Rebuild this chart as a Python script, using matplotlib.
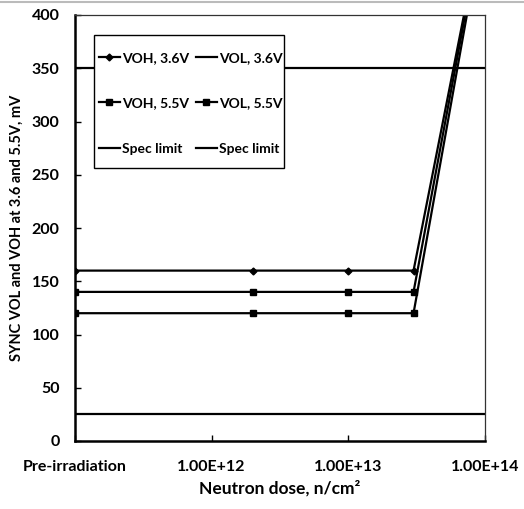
import numpy as np
import matplotlib.pyplot as plt
from matplotlib.lines import Line2D
from matplotlib.patches import Rectangle

plt.rcParams['font.family'] = ['Lato', 'DejaVu Sans']
plt.rcParams['font.weight'] = 'bold'

# Dosis (pre-irradiación se dibuja en 1E11)
dose = [1e11, 2e12, 1e13, 3e13, 1e14]
voh_36 = [160, 160, 160, 160, 500]
voh_55 = [140, 140, 140, 140, 500]
vol_55 = [120, 120, 120, 120, 495]
vol_36 = []  # sin puntos dentro del rango
spec_hi = [350, 350]
spec_lo = [25, 25]
spec_x = [1e11, 1e14]

xticks = [1e11, 1e12, 1e13, 1e14]
xticklabels = ['Pre-irradiation', '1.00E+12', '1.00E+13', '1.00E+14']
yticks = np.arange(0, 401, 50)

fig = plt.figure(figsize=(5.24, 5.09), dpi=100)
ax = fig.add_axes([75 / 524, 1 - 441 / 509, 410 / 524, 426 / 509])

lw = 1.6
h1, = ax.plot(dose, voh_36, color='black', lw=lw, marker='D', ms=3.5, label='VOH, 3.6V')
h2, = ax.plot(vol_36, vol_36, color='black', lw=lw, label='VOL, 3.6V')
h3, = ax.plot(dose, voh_55, color='black', lw=lw, marker='s', ms=3.8, label='VOH, 5.5V')
h4, = ax.plot(dose, vol_55, color='black', lw=lw, marker='s', ms=4.8, label='VOL, 5.5V')
h5, = ax.plot(spec_x, spec_hi, color='black', lw=lw, label='Spec limit')
h6, = ax.plot(spec_x, spec_lo, color='black', lw=lw, label='Spec limit')

ax.set_xscale('log')
ax.set_xlim(1e11, 1e14)
ax.set_ylim(0, 400)
ax.set_xticks(xticks)
ax.set_xticklabels(xticklabels)
ax.minorticks_off()
ax.set_yticks(yticks)
ax.tick_params(axis='both', direction='in', length=4, width=1, labelsize=11.5)
ax.tick_params(axis='x', pad=14)
ax.tick_params(axis='y', pad=11)

for side in ['left', 'bottom']:
    ax.spines[side].set_linewidth(1.8)
for side in ['top', 'right']:
    ax.spines[side].set_linewidth(0.9)
    ax.spines[side].set_color('#333333')

ax.set_xlabel('Neutron dose, n/cm²', fontsize=12.5, fontweight='bold', labelpad=4)
ax.set_ylabel('SYNC VOL and VOH at 3.6 and 5.5V, mV', fontsize=10.5, fontweight='bold', labelpad=6)

# caja de la leyenda
ax.add_patch(Rectangle((19 / 410, 273 / 426), 190 / 410, 133 / 426, transform=ax.transAxes,
                       facecolor='white', edgecolor='black', lw=1.0, zorder=4))

# orden por filas: VOH 3.6 | VOL 3.6, VOH 5.5 | VOL 5.5, Spec | Spec
handles = [h1, h3, h5, h2, h4, h6]
labels = [h.get_label() for h in handles]
leg = ax.legend(handles, labels, ncol=2, loc='upper left',
                bbox_to_anchor=(24 / 410, 389 / 426),
                prop={'family': ['Lato', 'DejaVu Sans'], 'weight': 'bold', 'size': 10},
                frameon=False, borderpad=0, borderaxespad=0, handlelength=1.5,
                handletextpad=0.15, columnspacing=0.5, labelspacing=2.4)
leg.set_zorder(5)

# línea gris superior
fig.add_artist(Line2D([0, 1], [1 - 1.5 / 509] * 2, color='#bbbbbb', lw=1.5))

plt.savefig('out.png', dpi=100)
